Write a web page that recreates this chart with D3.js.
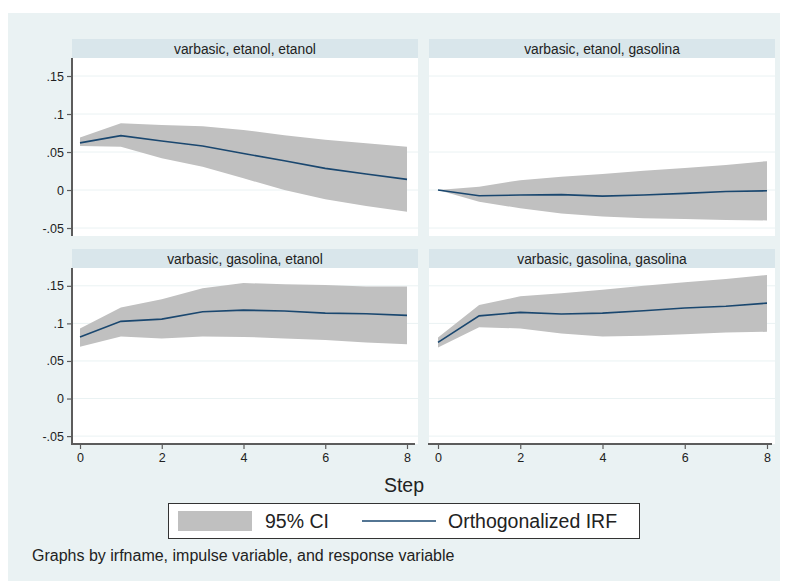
<!DOCTYPE html>
<html>
<head>
<meta charset="utf-8">
<script src="https://cdn.jsdelivr.net/npm/d3@7"></script>
<style>
  body { margin: 0; background: #ffffff; }
  svg { display: block; font-family: "Liberation Sans", Arial, sans-serif; }
</style>
</head>
<body>
<svg id="chart" width="790" height="583"></svg>
<script>
// ---- Data ----
const steps = [0, 1, 2, 3, 4, 5, 6, 7, 8];
const panelTitles = [
  "varbasic, etanol, etanol",
  "varbasic, etanol, gasolina",
  "varbasic, gasolina, etanol",
  "varbasic, gasolina, gasolina"
];
const irfEE = [0.062, 0.0715, 0.0645, 0.058, 0.048, 0.0386, 0.0285, 0.021, 0.014];
const upEE  = [0.069, 0.088, 0.0855, 0.084, 0.079, 0.072, 0.066, 0.0615, 0.057];
const loEE  = [0.058, 0.057, 0.0417, 0.0307, 0.0154, 0.0, -0.012, -0.021, -0.0285];

const irfEG = [0.0, -0.0075, -0.0066, -0.006, -0.008, -0.0066, -0.0044, -0.002, -0.001];
const upEG  = [0.0, 0.0044, 0.013, 0.0175, 0.021, 0.0254, 0.029, 0.033, 0.038];
const loEG  = [0.0, -0.0154, -0.024, -0.031, -0.035, -0.037, -0.038, -0.0395, -0.040];

const irfGE = [0.082, 0.1027, 0.1057, 0.1155, 0.1177, 0.1164, 0.1137, 0.1128, 0.1107];
const upGE  = [0.0933, 0.121, 0.132, 0.1467, 0.1537, 0.152, 0.151, 0.149, 0.149];
const loGE  = [0.069, 0.0827, 0.080, 0.0827, 0.082, 0.080, 0.078, 0.0747, 0.0724];

const irfGG = [0.0747, 0.110, 0.1147, 0.1124, 0.1137, 0.1168, 0.1204, 0.1227, 0.127];
const upGG  = [0.0813, 0.1244, 0.136, 0.140, 0.1448, 0.150, 0.1547, 0.159, 0.1644];
const loGG  = [0.068, 0.0947, 0.0933, 0.0867, 0.0827, 0.0835, 0.0857, 0.088, 0.0888];

const yTicks = [-0.05, 0, 0.05, 0.1, 0.15];
const yTickLabels = ["-.05", "0", ".05", ".1", ".15"];
const xTicks = [0, 2, 4, 6, 8];
const xTickLabels = ["0", "2", "4", "6", "8"];
const xTitle = "Step";
const legendLabels = ["95% CI", "Orthogonalized IRF"];
const note = "Graphs by irfname, impulse variable, and response variable";

// ---- Style ----
const C = {
  bg: "#eaf2f3", strip: "#d9e6eb", plot: "#ffffff", grid: "#eaf2f3",
  ci: "#c0c0c0", line: "#1a476f", axis: "#5c5c5c", text: "#222222"
};

const svg = d3.select("#chart");
svg.append("rect").attr("x", 8).attr("y", 13).attr("width", 772).attr("height", 568).attr("fill", C.bg);

const cols = [{x0: 72, x1: 418, d0: 80, d1: 407}, {x0: 429, x1: 775, d0: 438, d1: 767}];
const rows = [{s0: 39, p0: 58, p1: 236}, {s0: 249, p0: 268, p1: 444}];
const yDomain = [-0.0605, 0.1737];

const panels = [
  {r: 0, c: 0, irf: irfEE, up: upEE, lo: loEE},
  {r: 0, c: 1, irf: irfEG, up: upEG, lo: loEG},
  {r: 1, c: 0, irf: irfGE, up: upGE, lo: loGE},
  {r: 1, c: 1, irf: irfGG, up: upGG, lo: loGG}
];

panels.forEach((p, i) => {
  const col = cols[p.c], row = rows[p.r];
  const g = svg.append("g");
  const x = d3.scaleLinear().domain([0, 8]).range([col.d0, col.d1]);
  const y = d3.scaleLinear().domain(yDomain).range([row.p1, row.p0]);

  // strip
  g.append("rect").attr("x", col.x0).attr("y", row.s0).attr("width", col.x1 - col.x0)
    .attr("height", row.p0 - row.s0).attr("fill", C.strip);
  g.append("text").attr("x", (col.x0 + col.x1) / 2).attr("y", (row.s0 + row.p0) / 2 + 5)
    .attr("text-anchor", "middle").attr("font-size", 13.8).attr("fill", C.text).text(panelTitles[i]);

  // plot region
  g.append("rect").attr("x", col.x0).attr("y", row.p0).attr("width", col.x1 - col.x0)
    .attr("height", row.p1 - row.p0).attr("fill", C.plot);

  // grid
  g.selectAll(".grid").data(yTicks).enter().append("line")
    .attr("x1", col.x0).attr("x2", col.x1)
    .attr("y1", d => y(d)).attr("y2", d => y(d))
    .attr("stroke", C.grid).attr("stroke-width", 1);

  const data = steps.map((s, k) => ({s, v: p.irf[k], u: p.up[k], l: p.lo[k]}));
  g.append("path").datum(data)
    .attr("d", d3.area().x(d => x(d.s)).y0(d => y(d.l)).y1(d => y(d.u)))
    .attr("fill", C.ci);
  g.append("path").datum(data)
    .attr("d", d3.line().x(d => x(d.s)).y(d => y(d.v)))
    .attr("fill", "none").attr("stroke", C.line).attr("stroke-width", 1.6);

  // y axis on left column
  if (p.c === 0) {
    const ax = g.append("g").attr("transform", `translate(${col.x0},0)`)
      .call(d3.axisLeft(y).tickValues(yTicks).tickSize(5).tickPadding(3)
        .tickFormat((d, k) => yTickLabels[k]));
    ax.select(".domain").remove();
    ax.selectAll(".tick line").attr("stroke", C.axis).attr("stroke-width", 1.2);
    ax.selectAll("text").attr("font-size", 12.5).attr("fill", C.text)
      .attr("font-family", "Liberation Sans, Arial, sans-serif");
    g.append("line").attr("x1", col.x0).attr("x2", col.x0).attr("y1", row.p0)
      .attr("y2", p.r === 1 ? row.p1 + 1 : row.p1).attr("stroke", C.axis).attr("stroke-width", 2);
  }
  // x axis on bottom row
  if (p.r === 1) {
    const ax = g.append("g").attr("transform", `translate(0,${row.p1})`)
      .call(d3.axisBottom(x).tickValues(xTicks).tickSize(5).tickPadding(4)
        .tickFormat((d, k) => xTickLabels[k]));
    ax.select(".domain").remove();
    ax.selectAll(".tick line").attr("stroke", C.axis).attr("stroke-width", 1.2);
    ax.selectAll("text").attr("font-size", 12.5).attr("fill", C.text)
      .attr("font-family", "Liberation Sans, Arial, sans-serif");
    g.append("line").attr("x1", col.x0 - 1).attr("x2", col.x1 - 3).attr("y1", row.p1).attr("y2", row.p1)
      .attr("stroke", C.axis).attr("stroke-width", 2);
  }
});

// x title
svg.append("text").attr("x", 404).attr("y", 492).attr("text-anchor", "middle")
  .attr("font-size", 19.5).attr("fill", C.text).text(xTitle);

// legend
const lg = svg.append("g");
lg.append("rect").attr("x", 168.5).attr("y", 503.5).attr("width", 471).attr("height", 35)
  .attr("fill", "#ffffff").attr("stroke", "#333").attr("stroke-width", 1);
lg.append("rect").attr("x", 178).attr("y", 511).attr("width", 74).attr("height", 20).attr("fill", C.ci);
lg.append("text").attr("x", 265).attr("y", 528).attr("font-size", 19.5).attr("fill", C.text).text(legendLabels[0]);
lg.append("line").attr("x1", 362).attr("x2", 436).attr("y1", 521).attr("y2", 521)
  .attr("stroke", C.line).attr("stroke-width", 1.6);
lg.append("text").attr("x", 448).attr("y", 528).attr("font-size", 19.5).attr("fill", C.text).text(legendLabels[1]);

// note
svg.append("text").attr("x", 32).attr("y", 561).attr("font-size", 16).attr("fill", C.text).text(note);
</script>
</body>
</html>
